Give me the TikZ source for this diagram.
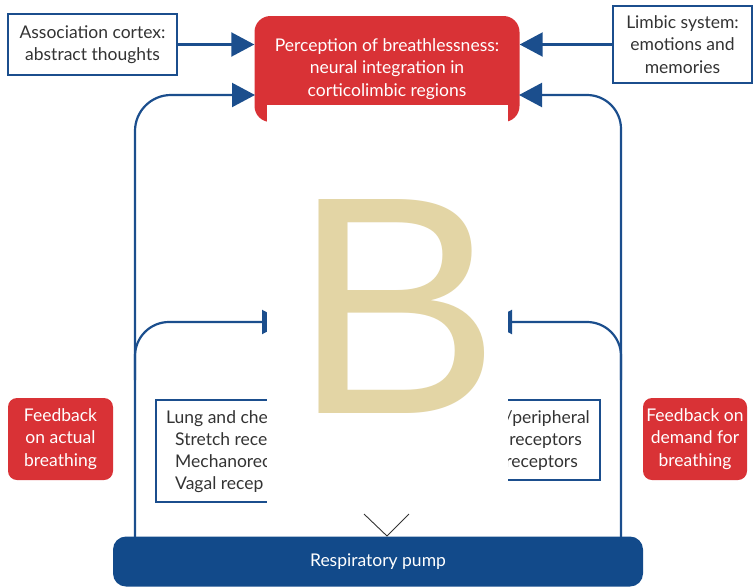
\documentclass[tikz,border=0pt]{standalone}
\usepackage{fontspec}
\setmainfont{Lato}
\newfontfamily\bigfont{Liberation Sans}
\usetikzlibrary{arrows.meta,calc}
\definecolor{dblue}{HTML}{1B4E8D}
\definecolor{pblue}{HTML}{124A8A}
\definecolor{dred}{HTML}{D93236}
\definecolor{dtext}{HTML}{333333}
\definecolor{btan}{HTML}{E3D5A5}
\begin{document}
\begin{tikzpicture}[x=1pt,y=-1pt,
  font=\fontsize{17.5}{22.5}\selectfont,
  bluebox/.style={draw=dblue,line width=2pt,fill=white,text=dtext,align=center,inner sep=0pt},
  redbox/.style={fill=dred,text=white,align=center,rounded corners=9pt,inner sep=0pt},
  link/.style={draw=dblue,line width=2.2pt},
  arr/.style={link,-{Triangle[length=23pt,width=24pt]}},
  vmark/.style={draw=dtext,line width=0.9pt}]
\useasboundingbox (0,0) rectangle (754,587);

% nodes
\node[redbox,rounded corners=16pt,minimum width=265pt,minimum height=106pt] (perc) at (387,69)
  {Perception of breathlessness:\\neural integration in\\corticolimbic regions};
\node[bluebox,minimum width=169pt,minimum height=61pt] (assoc) at (92.5,44.5)
  {Association cortex:\\abstract thoughts};
\node[bluebox,minimum width=139pt,minimum height=77pt] (limbic) at (682.5,44.5)
  {Limbic system:\\emotions and\\memories};
\node[redbox,minimum width=105pt,minimum height=82pt] (fbl) at (60.5,439)
  {Feedback\\on actual\\breathing};
\node[redbox,minimum width=104pt,minimum height=82pt] (fbr) at (695,439)
  {Feedback on\\demand for\\breathing};
\node[fill=pblue,text=white,rounded corners=13pt,minimum width=530pt,minimum height=50pt,inner sep=0pt] (pump) at (378,561.5)
  {Respiratory pump};

% receptor boxes (partly hidden)
\node[bluebox,minimum width=200pt,minimum height=102pt] (lung) at (256,451) {};
\node[bluebox,minimum width=180pt,minimum height=80pt] (peri) at (510,440) {};

% coordinates
\coordinate (pinl) at (255,95);
\coordinate (pinr) at (519,95);
\coordinate (lbot) at (135,537);
\coordinate (rbot) at (621,537);
\coordinate (lbr) at (135,380);
\coordinate (rbr) at (621,380);
\coordinate (ltip) at (285,322);
\coordinate (rtip) at (489,322);
\coordinate (vtip) at (387,536);

% connectors
\draw[arr] (assoc.east) -- (assoc.east -| perc.west);
\draw[arr] (limbic.west) -- (limbic.west -| perc.east);
\draw[arr,rounded corners=36pt] (lbot) |- (pinl);
\draw[arr,rounded corners=34pt] (rbot) |- (pinr);
\draw[arr,rounded corners=34pt] (lbr) |- (ltip);
\draw[arr,rounded corners=34pt] (rbr) |- (rtip);

% receptor texts (visible parts)
\node[text=dtext,anchor=base west,inner sep=0pt] (l1) at (166,423) {Lung and che};
\node[text=dtext,anchor=base west,inner sep=0pt] (l2) at (175,445) {Stretch rece};
\node[text=dtext,anchor=base west,inner sep=0pt] (l3) at (175,467) {Mechanorec};
\node[text=dtext,anchor=base west,inner sep=0pt] (l4) at (175,489) {Vagal recep};
\node[text=dtext,anchor=base east,inner sep=0pt] (r1) at (590,423) {/peripheral};
\node[text=dtext,anchor=base east,inner sep=0pt] (r2) at (582,445) {receptors};
\node[text=dtext,anchor=base east,inner sep=0pt] (r3) at (578,467) {receptors};

% cover panel and letter
\fill[white] (267,105) rectangle (508,510);
\node[text=btan,inner sep=0pt] (bl) at (397.5,306.5) {\bigfont\fontsize{311}{311}\selectfont B};

% arrowhead mark into pump
\draw[vmark] (364,514) -- (vtip) -- (409,514);
\end{tikzpicture}
\end{document}
